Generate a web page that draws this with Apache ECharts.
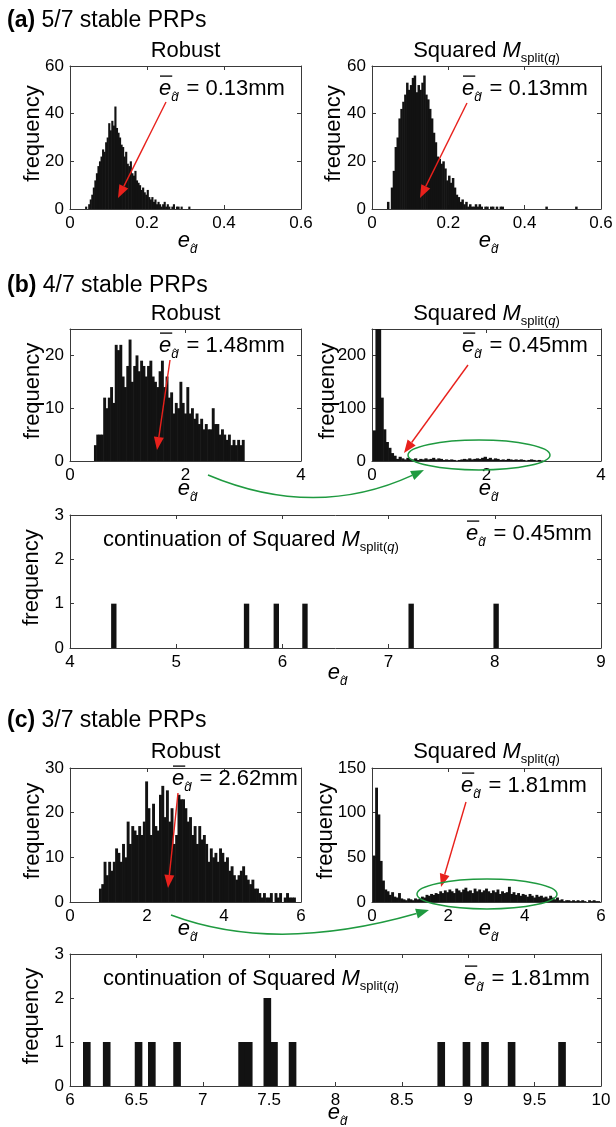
<!DOCTYPE html>
<html><head><meta charset="utf-8">
<script src="https://cdn.jsdelivr.net/npm/echarts@6/dist/echarts.min.js"></script>
<style>html,body{margin:0;padding:0;background:#fff}#c{width:616px;height:1127px}</style>
</head><body><div id="c"></div>
<script>
// ---------------- DATA ----------------
const a1Start = 0.040, a1Width = 0.004;
const a1Counts = [1,0,2,4,6,9,12,15,18,20, 22,25,24,28,30,36,33,37,35,43, 34,32,30,27,26,22,24,19,18,20,
  15,14,16,12,11,10,8,9,7,6, 8,5,4,5,3,4,2,3,2,1, 2,3,1,2,1,0,1,2,0,1, 1,0,1,0,0,0,0,1];
const a2Start = 0.040, a2Width = 0.005;
const a2Counts = [3,0,9,16,26,30,38,42,45,48, 53,50,52,55,56,49,52,50,53,56, 48,46,42,38,32,28,22,21,19,20,
  17,12,14,11,13,9,6,5,3,4, 2,3,1,2,1,1,2,1,2,1, 0,1,1,0,1,1,0,1,0,1, 1];
const a2OutlierLefts = [0.455, 0.533];
const a2OutlierCounts = [1, 1];
const b1Start = 0.42, b1Width = 0.04;
const b1Counts = [3,5,5,5,12,10,12,14,11,22, 21,22,16,14,18,23,15,18,20,17, 19,18,16,18,19,16,15,14,17,19,
  14,16,12,13,9,11,10,15,11,9, 14,9,10,8,9,7,8,6,7,6, 6,10,7,7,5,6,5,4,5,3, 4,3,4,3,4];
const b2Start = 0.02, b2Width = 0.045;
const b2Counts = [58,262,262,120,60,36,25,15,10,4, 8,5,3,6,4,3,5,2,4,3, 5,3,4,6,3,5,4,2,3,2,
  3,2,1,2,3,4,3,5,3,4, 5,4,6,8,4,6,3,5,4,2, 3,2,4,3,2,3,2,3,2,1, 2,3,2,1,2,1];
const b3Lefts = [4.39, 5.64, 5.92, 6.19, 7.19, 7.99];
const b3Counts = [1, 1, 1, 1, 1, 1];
const b3Width = 0.045;
const c1Start = 0.76, c1Width = 0.06;
const c1Counts = [3,4,9,6,9,7,9,12,11,9, 13,10,18,13,17,16,15,17,15,18, 27,21,15,22,17,16,24,26,19,25,
  18,21,13,15,24,23,23,21,18,19, 15,17,13,17,14,15,13,9,12,10, 11,9,12,11,9,10,7,8,6,5,
  6,7,8,6,5,4,5,3,3,2, 1,2,1,1,2,0,2,1,2,0, 1,2,1,1,1];
const c2Start = 0.03, c2Width = 0.06;
const c2Counts = [52,128,98,46,24,14,12,8,11,6, 5,10,4,3,2,4,3,2,4,3, 4,6,5,8,7,9,8,10,9,12,
  10,13,11,14,12,10,15,13,11,14, 16,12,13,10,15,12,14,11,13,15, 12,10,13,11,14,9,12,10,11,17,
  9,11,8,10,7,9,8,6,9,7, 5,8,6,7,5,6,4,7,5,3, 5,2,3,1,2,2,1,2,1,2, 1,2,1,0,2,1,2,1,1];
const c3Lefts = [6.10, 6.25, 6.49, 6.59, 6.78, 7.27, 7.32, 7.46, 7.51, 7.65, 8.77, 8.96, 9.10, 9.30, 9.68];
const c3Counts = [1, 1, 1, 1, 1, 1, 1, 2, 1, 1, 1, 1, 1, 1, 1];
const c3Width = 0.053;

// axis ranges / ticks (per panel: a-robust, a-squared, b-robust, b-squared, b-cont, c-robust, c-squared, c-cont)
const xMin  = [0, 0, 0, 0, 4, 0, 0, 6];
const xMax  = [0.6, 0.6, 4, 4, 9, 6, 6, 10];
const xStep = [0.2, 0.2, 2, 2, 1, 2, 2, 0.5];
const yMax  = [60, 60, 25, 250, 3, 30, 150, 3];
const yStep = [20, 20, 10, 100, 1, 10, 50, 1];
const meanLabels = ['0.13mm', '0.13mm', '1.48mm', '0.45mm', '0.45mm', '2.62mm', '1.81mm', '1.81mm'];
const panelLetters = ['(a)', '(b)', '(c)'];
const panelTitles = [' 5/7 stable PRPs', ' 4/7 stable PRPs', ' 3/7 stable PRPs'];

// ---------------- LAYOUT ----------------
const FAM = '"Liberation Sans", Arial, Helvetica, sans-serif';
const AX = '#3a3a3a', BAR = '#121212', RED = '#e8211c', GREEN = '#1f9a40';
const G = [
  {l:70,  t:66,  w:231, h:143},
  {l:372, t:66,  w:229, h:143},
  {l:70,  t:329, w:231, h:132},
  {l:372, t:329, w:229, h:132},
  {l:70,  t:515, w:531, h:133},
  {l:70,  t:768, w:231, h:134},
  {l:372, t:768, w:229, h:134},
  {l:70,  t:954, w:531, h:132}
];

const chart = echarts.init(document.getElementById('c'));
const grid = G.map(g => ({left:g.l, top:g.t, width:g.w, height:g.h, show:false, containLabel:false, outerBoundsMode:'none'}));
const xAxis = [], yAxis = [];
G.forEach((g, i) => {
  const line = {show:true, onZero:false, lineStyle:{color:AX, width:1}};
  const tick = {show:true, inside:true, length:4, lineStyle:{color:AX, width:1}};
  const lab = {show:true, margin:6, fontSize:17, fontFamily:'Liberation Sans', color:'#000'};
  const xb = {type:'value', gridIndex:i, min:xMin[i], max:xMax[i], interval:xStep[i], position:'bottom',
    axisLine:line, axisTick:tick, axisLabel:lab, splitLine:{show:false}};
  xAxis.push(xb);
  xAxis.push(Object.assign({}, xb, {position:'top', axisLabel:{show:false}}));
  const ok = (yMax[i] % yStep[i]) === 0;
  const yb = {type:'value', gridIndex:i, min:0, max:yMax[i], interval:yStep[i], position:'left',
    axisLine:line, axisTick:tick, axisLabel:Object.assign({}, lab, {showMaxLabel: ok}), splitLine:{show:false}};
  yAxis.push(yb);
  yAxis.push(Object.assign({}, yb, {position:'right', axisLabel:{show:false}}));
});

function lefts(start, width, counts) { return counts.map((_, k) => start + k * width); }
function hist(i, xs, counts, w) {
  return {
    type:'custom', xAxisIndex:2*i, yAxisIndex:2*i, silent:true, animation:false,
    data: xs.map((x, k) => [x, counts[k]]),
    encode:{x:0, y:1},
    renderItem(params, api) {
      const x0 = api.value(0), c = api.value(1);
      if (!(c > 0)) return;
      const p0 = api.coord([x0, c]), p1 = api.coord([x0 + w, 0]);
      const cs = params.coordSys;
      const r = echarts.graphic.clipRectByRect(
        {x:p0[0] - 0.3, y:p0[1], width:p1[0]-p0[0] + 0.6, height:p1[1]-p0[1]},
        {x:cs.x, y:cs.y, width:cs.width, height:cs.height});
      return r ? {type:'rect', shape:r, style:{fill:BAR}} : null;
    }
  };
}
const series = [
  hist(0, lefts(a1Start, a1Width, a1Counts), a1Counts, a1Width),
  hist(1, lefts(a2Start, a2Width, a2Counts), a2Counts, a2Width),
  hist(1, a2OutlierLefts, a2OutlierCounts, a2Width),
  hist(2, lefts(b1Start, b1Width, b1Counts), b1Counts, b1Width),
  hist(3, lefts(b2Start, b2Width, b2Counts), b2Counts, b2Width),
  hist(4, b3Lefts, b3Counts, b3Width),
  hist(5, lefts(c1Start, c1Width, c1Counts), c1Counts, c1Width),
  hist(6, lefts(c2Start, c2Width, c2Counts), c2Counts, c2Width),
  hist(7, c3Lefts, c3Counts, c3Width)
];

// ---------------- TEXT / ANNOTATIONS ----------------
const ctx = document.createElement('canvas').getContext('2d');
function fontStr(p) { return (p.it ? 'italic ' : '') + (p.b ? 'bold ' : '') + p.s + 'px ' + FAM; }
function tw(p) { ctx.font = fontStr(p); return ctx.measureText(p.t).width; }
const els = [];
function compose(x, base, parts, center) {
  const ws = parts.map(p => tw(p) + (p.gap || 0));
  const total = ws.reduce((a, b) => a + b, 0);
  let cx = center ? x - total / 2 : x;
  parts.forEach((p, i) => {
    const x0 = cx + (p.gap || 0);
    const by = base + (p.dy || 0);
    const w = ws[i] - (p.gap || 0);
    els.push({type:'text', x:x0, y:by - 0.347 * p.s, z:100,
      style:{text:p.t, font:fontStr(p), fill:'#000', align:'left', verticalAlign:'middle', textAlign:'left', textVerticalAlign:'middle'}});
    if (p.over) els.push({type:'line', z:100, shape:{x1:x0 + 1, y1:base - 0.95 * p.s, x2:x0 + w + 1, y2:base - 0.95 * p.s},
      style:{stroke:'#000', lineWidth:1.3}});
    if (p.hat) {
      const hx = x0 + 0.5 * w, hy = by - 0.8 * p.s;
      els.push({type:'polyline', z:100, shape:{points:[[hx - 2.2, hy + 2.6], [hx, hy], [hx + 2.2, hy + 2.6]]},
        style:{stroke:'#000', lineWidth:0.9, fill:null}});
    }
    cx += ws[i];
  });
}
const eParts = () => [{t:'e', s:22, it:true}, {t:'d', s:13, it:true, dy:5, hat:true}];
const meanParts = (v) => [{t:'e', s:22, it:true, over:true}, {t:'d', s:13, it:true, dy:5, hat:true}, {t:'= ' + v, s:22, gap:8}];
const sqParts = (pre) => [{t:pre + 'Squared ', s:22}, {t:'M', s:22, it:true}, {t:'split(', s:13, dy:4}, {t:'q', s:13, it:true, dy:4}, {t:')', s:13, dy:4}];

// panel titles
[29, 294, 729].forEach((b, k) => compose(7, b, [{t:panelLetters[k], s:23, b:true}, {t:panelTitles[k], s:23}], false));
// column titles
[[0, 59], [2, 322], [5, 760]].forEach(([i, b]) => {
  compose(G[i].l + G[i].w / 2, b, [{t:'Robust', s:22}], true);
  compose(G[i + 1].l + G[i + 1].w / 2, b, sqParts(''), true);
});
// x-axis labels
[[0,249],[1,249],[2,497],[3,497],[4,681],[5,937],[6,937],[7,1121]].forEach(([i, b]) =>
  compose(G[i].l + G[i].w / 2 + 2, b, eParts(), true));
// y-axis name
const fx = [33, 334, 33, 328, 32, 33, 326, 32];
G.forEach((g, i) => els.push({type:'text', x:fx[i], y:g.t + g.h / 2 - 4, rotation:Math.PI / 2, z:100,
  style:{text:'frequency', font:'22px ' + FAM, fill:'#000', align:'center', verticalAlign:'middle', textAlign:'center', textVerticalAlign:'middle'}}));
// mean annotations
const meanPos = [[159,97],[462,97],[159,354],[462,354],[466,542],[172,787],[461,794],[464,987]];
meanPos.forEach(([x, b], i) => compose(x, b, meanParts(meanLabels[i]), false));
// continuation texts
compose(103, 548, sqParts('continuation of '), false);
compose(103, 987, sqParts('continuation of '), false);

function arrowHead(x2, y2, ang, color, hl, hw) {
  const bx = x2 - hl * Math.cos(ang), by = y2 - hl * Math.sin(ang);
  const px = -Math.sin(ang) * hw, py = Math.cos(ang) * hw;
  els.push({type:'polygon', z:101, shape:{points:[[x2, y2], [bx + px, by + py], [bx - px, by - py]]}, style:{fill:color}});
  return [bx, by];
}
const redArrows = [[166,102,118,198],[467,103,420,198],[170,360,157,450],[468,365,404,453],[178,793,168,888],[466,802,441,887]];
redArrows.forEach(([x1, y1, x2, y2]) => {
  const ang = Math.atan2(y2 - y1, x2 - x1);
  const [bx, by] = arrowHead(x2, y2, ang, RED, 13, 5);
  els.push({type:'line', z:101, shape:{x1, y1, x2:bx, y2:by}, style:{stroke:RED, lineWidth:1.4}});
});
const greenCurves = [[208,475,315,520,424,470],[171,915,275,954,429,910]];
greenCurves.forEach(([x1, y1, cx, cy, x2, y2]) => {
  const ang = Math.atan2(y2 - cy, x2 - cx);
  const [bx, by] = arrowHead(x2, y2, ang, GREEN, 13, 5);
  els.push({type:'bezierCurve', z:101, shape:{x1, y1, cpx1:cx, cpy1:cy, x2:bx, y2:by}, style:{stroke:GREEN, lineWidth:1.5, fill:null}});
});
const ellipses = [[479,455,71,15],[487,894,70,15]];
ellipses.forEach(([cx, cy, rx, ry]) => els.push({type:'ellipse', z:101, shape:{cx, cy, rx, ry}, style:{stroke:GREEN, lineWidth:1.5, fill:null}}));

chart.setOption({
  backgroundColor:'#fff', animation:false,
  grid, xAxis, yAxis, series,
  graphic:{elements:els}
});
</script></body></html>
